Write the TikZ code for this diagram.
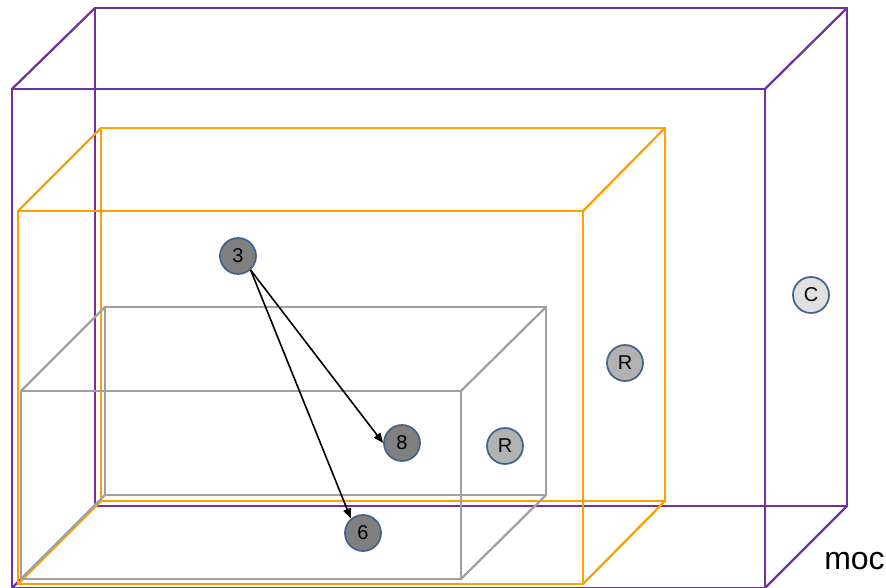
\documentclass[tikz,border=0pt]{standalone}
\usepackage{fontspec}
\setmainfont{Liberation Sans}
\usetikzlibrary{arrows.meta}
\definecolor{purp}{HTML}{7030A0}
\definecolor{orng}{HTML}{FFA000}
\definecolor{grayb}{HTML}{A0A0A0}
\definecolor{nodeb}{HTML}{41648F}
\tikzset{
  boxedge/.style={line width=1.7pt, line join=miter},
  vnode/.style={circle, draw=nodeb, line width=1.3pt, minimum size=27pt, inner sep=0pt, font=\fontsize{15}{15}\selectfont, text=black},
  dark/.style={vnode, fill=black!50},
  mid/.style={vnode, fill=black!30},
  light/.style={vnode, fill=black!12},
  arr/.style={line width=1.2pt, -{Triangle[length=7.5pt,width=6pt]}}
}
\newcommand{\wirebox}[9]{% color, fx1, fy1, fx2, fy2, bx1, by1, bx2, by2
  \draw[boxedge, #1] (#6,#7) rectangle (#8,#9);
  \draw[boxedge, #1] (#2,#3) rectangle (#4,#5);
  \draw[boxedge, #1] (#2,#3) -- (#6,#7);
  \draw[boxedge, #1] (#4,#3) -- (#8,#7);
  \draw[boxedge, #1] (#4,#5) -- (#8,#9);
  \draw[boxedge, #1] (#2,#5) -- (#6,#9);
}
\begin{document}
\begin{tikzpicture}[x=0.75pt, y=-0.75pt]
\useasboundingbox (0,0) rectangle (886,588);
% purple box
\wirebox{purp}{12}{89}{765}{588}{95}{8}{847}{506}
% orange box
\wirebox{orng}{18}{211}{583}{584}{101}{128}{665}{501}
% gray box
\wirebox{grayb}{21}{391}{461}{579}{105}{307}{546}{495}
% nodes
\node[dark]  (n3) at (238,256) {3};
\node[dark]  (n8) at (402,443) {8};
\node[dark]  (n6) at (363,533) {6};
\node[mid]   (r1) at (505,446) {R};
\node[mid]   (r2) at (625,363) {R};
\node[light] (c1) at (811,295) {C};
% arrows
\draw[arr] (n3.-48) -- (n8.west);
\draw[arr] (n3.-48) -- (n6.130);
% label
\node[anchor=base west, inner sep=0pt, font=\fontsize{24}{24}\selectfont] (moc) at (824,569) {moc};
\end{tikzpicture}
\end{document}
